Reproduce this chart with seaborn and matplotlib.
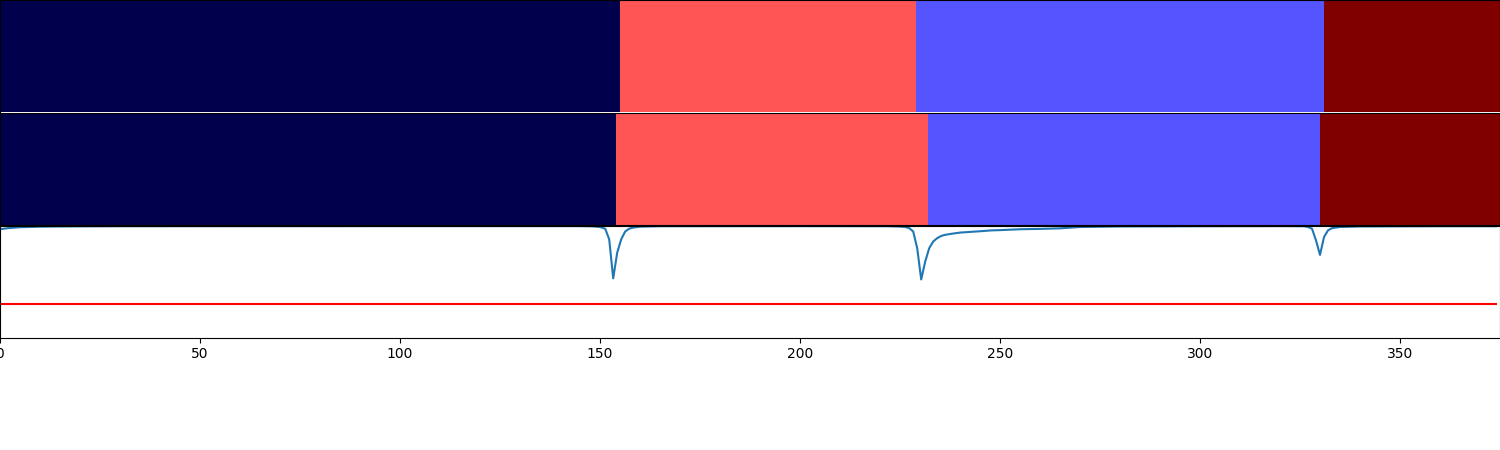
import numpy as np
import seaborn as sns
import matplotlib.pyplot as plt

# segment classes (0..3 on the seismic map) and their lengths in frames
gt_labels = [0, 2, 1, 3]
gt_lengths = [155, 74, 102, 44]
pred_labels = [0, 2, 1, 3]
pred_lengths = [154, 78, 98, 45]

# boundary confidence curve
curve_x = [0, 2, 5, 10, 15, 30, 100, 145, 148, 150, 151.3, 152.3, 153.3, 154.3,
           155.3, 156.3, 157.3, 158.3, 160, 165, 200, 222, 225, 226.3, 227.3,
           228.3, 229.3, 230.3, 231.3, 232.3, 233.3, 234.3, 235.3, 236.3, 238,
           240, 245, 248, 250, 255, 260, 265, 270, 280, 300, 320, 326, 327,
           328, 329, 330, 331, 332, 333, 335, 340, 360, 374]
curve_y = [0.97, 0.98, 0.988, 0.993, 0.995, 0.997, 0.998, 0.998, 0.996, 0.99,
           0.975, 0.88, 0.53, 0.76, 0.88, 0.95, 0.975, 0.985, 0.993, 0.997,
           0.998, 0.997, 0.994, 0.99, 0.98, 0.95, 0.8, 0.52, 0.68, 0.8, 0.86,
           0.89, 0.91, 0.92, 0.93, 0.94, 0.952, 0.96, 0.962, 0.97, 0.973,
           0.978, 0.99, 0.995, 0.997, 0.998, 0.997, 0.99, 0.975, 0.87, 0.74,
           0.9, 0.96, 0.98, 0.99, 0.995, 0.997, 0.997]
threshold_x = [0, 374]
threshold_y = [0.3, 0.3]

n_frames = sum(gt_lengths)

fig, axes = plt.subplots(3, 1, figsize=(15, 4.5))
plt.subplots_adjust(left=0, right=1, top=1, bottom=0.25, hspace=0.012)

for ax, labels, lengths in [(axes[0], gt_labels, gt_lengths),
                            (axes[1], pred_labels, pred_lengths)]:
    row = np.repeat(labels, lengths)[None, :]
    sns.heatmap(row, cmap="seismic", vmin=0, vmax=3, cbar=False, ax=ax,
                xticklabels=False, yticklabels=False)
    for s in ax.spines.values():
        s.set_visible(True)
        s.set_color("black")
    ax.set_xticks([])
    ax.set_yticks([])
axes[0].spines["bottom"].set_visible(False)

ax = axes[2]
sns.lineplot(x=curve_x, y=curve_y, ax=ax, color="#1f77b4", linewidth=1.5)
sns.lineplot(x=threshold_x, y=threshold_y, ax=ax, color="red", linewidth=1.5)
ax.set_xlim(0, n_frames)
ax.set_ylim(0, 1)
ax.set_yticks([])
ax.set_xticks(range(0, 351, 50))

plt.savefig("out.png", dpi=100)
